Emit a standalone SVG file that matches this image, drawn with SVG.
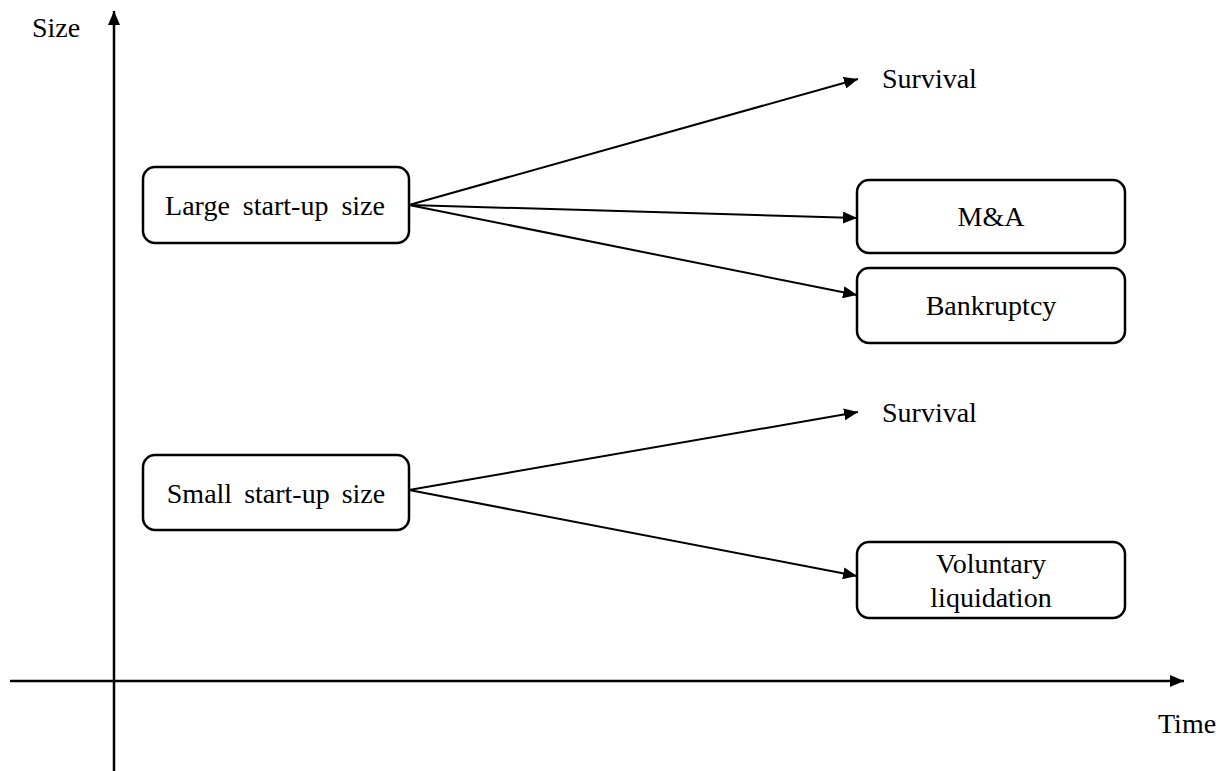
<svg xmlns="http://www.w3.org/2000/svg" width="1228" height="771" viewBox="0 0 1228 771">
<defs>
<marker id="ahBig" markerWidth="14" markerHeight="12" refX="14" refY="6" orient="auto" markerUnits="userSpaceOnUse" viewBox="0 0 14 12">
<path d="M0,0 L14,6 L0,12 Z" fill="#000"/>
</marker>
</defs>
<style>
text{font-family:"Liberation Serif","Times New Roman",serif;font-size:28px;fill:#000}
.box{fill:#fff;stroke:#000;stroke-width:2.5}
.conn{stroke:#000;stroke-width:2;fill:none;marker-end:url(#ahBig)}
.axis{stroke:#000;stroke-width:2.5;fill:none;marker-end:url(#ahBig)}
</style>
<rect width="1228" height="771" fill="#fff"/>
<g id="axes">
<line class="axis" x1="114" y1="771" x2="114" y2="11"/>
<line class="axis" x1="10" y1="681" x2="1184" y2="681"/>
<text x="32" y="37">Size</text>
<text x="1158" y="733">Time</text>
</g>
<g id="connectors">
<line class="conn" x1="409" y1="205" x2="858" y2="79"/>
<line class="conn" x1="409" y1="205" x2="857" y2="218"/>
<line class="conn" x1="409" y1="205" x2="857" y2="295"/>
<line class="conn" x1="409" y1="490" x2="858" y2="412"/>
<line class="conn" x1="409" y1="490" x2="857" y2="576"/>
</g>
<g id="large">
<rect class="box" x="143" y="167" width="266" height="76" rx="12"/>
<text x="275" y="215" text-anchor="middle" word-spacing="6">Large start-up size</text>
</g>
<g id="small">
<rect class="box" x="143" y="455" width="266" height="75" rx="12"/>
<text x="276" y="503" text-anchor="middle" word-spacing="5">Small start-up size</text>
</g>
<g id="survival1">
<text x="882" y="88">Survival</text>
</g>
<g id="ma">
<rect class="box" x="857" y="180" width="268" height="73" rx="12"/>
<text x="991" y="226" text-anchor="middle">M&amp;A</text>
</g>
<g id="bankruptcy">
<rect class="box" x="857" y="268" width="268" height="75" rx="12"/>
<text x="991" y="315" text-anchor="middle">Bankruptcy</text>
</g>
<g id="survival2">
<text x="882" y="422">Survival</text>
</g>
<g id="voluntary">
<rect class="box" x="857" y="542" width="268" height="76" rx="12"/>
<text x="991" y="573" text-anchor="middle">Voluntary</text>
<text x="991" y="607" text-anchor="middle">liquidation</text>
</g>
</svg>
